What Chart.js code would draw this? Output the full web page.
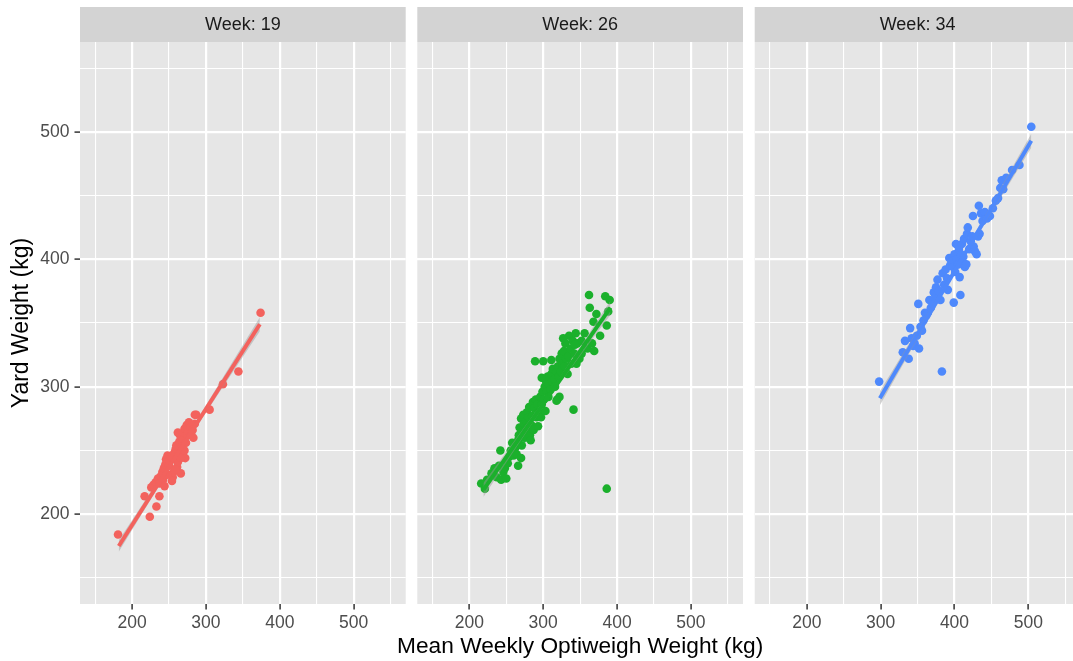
<!DOCTYPE html>
<html>
<head>
<meta charset="utf-8">
<title>Yard vs Optiweigh weight by week</title>
<script src="https://cdn.jsdelivr.net/npm/chart.js@4.4.1/dist/chart.umd.min.js"></script>
<style>
  html, body { margin: 0; padding: 0; background: #ffffff; overflow: hidden; }
  #wrap { position: relative; width: 1073px; height: 661px; overflow: hidden; }
  #wrap canvas { position: absolute; left: 0; top: 0; }
</style>
</head>
<body>
<div id="wrap">
  <canvas id="week19" width="1090" height="661"></canvas>
  <canvas id="week26" width="1090" height="661"></canvas>
  <canvas id="week34" width="1090" height="661"></canvas>
</div>
<script>
// Facet labels and colours
const weekLabels = ['Week: 19', 'Week: 26', 'Week: 34'];
const weekColors = ['#F3625D', '#1BB02C', '#4E89FC'];
const xTitle = 'Mean Weekly Optiweigh Weight (kg)';
const yTitle = 'Yard Weight (kg)';

// Major tick values shared by both axes (minor grid every 50 in between)
const tickValues = [200, 300, 400, 500];
const axisMin = 129.5;
const axisMax = 570.5;

// [mean weekly Optiweigh weight, yard weight] per animal, in kg
const week19 = [
  [181,184],[217,214],[224,198],[233,206],[237,214],[226,221],[229,223],[232,225],[235,228],[237,224],
  [239,230],[241,233],[243,236],[242,227],[245,239],[246,243],[248,246],[250,238],[251,242],[253,245],
  [255,229],[256,233],[257,248],[259,251],[260,254],[261,237],[262,241],[263,246],[264,257],[265,262],
  [266,232],[267,249],[268,253],[269,259],[270,264],[271,267],[272,244],[273,256],[274,270],[275,262],
  [276,265],[277,272],[279,268],[280,263],[282,266],[283,260],[285,271],[287,278],[271,250],[266,244],
  [259,235],[254,226],[248,231],[244,222],[285,278],[305,282],[323,302],[344,312],[374,358],[262,264]
];
const week26 = [
  [216,224],[221,220],[224,227],[230,232],[234,236],[237,229],[240,238],[242,250],[243,227],[246,233],
  [248,236],[250,228],[252,240],[254,245],[256,250],[258,256],[260,246],[262,252],[264,247],[266,258],
  [267,262],[268,268],[270,275],[271,254],[272,264],[273,278],[274,271],[275,260],[276,266],[277,273],
  [278,280],[279,268],[280,276],[281,284],[282,262],[284,270],[285,277],[286,288],[287,266],[288,283],
  [289,320],[290,290],[291,276],[292,286],[294,280],[296,292],[298,286],[299,296],[300,320],[301,290],
  [302,300],[304,304],[305,296],[306,308],[307,292],[308,302],[310,298],[311,310],[312,304],[313,314],
  [315,306],[316,300],[318,312],[319,290],[320,316],[321,308],[322,322],[324,312],[325,326],[326,318],
  [328,328],[329,316],[330,334],[331,322],[333,310],[334,324],[335,340],[337,330],[338,318],[340,336],
  [341,282],[342,326],[344,342],[346,334],[349,322],[352,336],[356,342],[360,330],[362,372],[363,362],
  [366,334],[368,351],[369,328],[372,357],[377,340],[384,371],[386,348],[386,220],[390,368],[388,359],
  [293,269],[283,258],[297,276],[303,281],[322,292],[318,289],[270,244],[345,318],[352,326],[311,321],
  [298,307],[327,338],[343,333],[266,238]
];
const week34 = [
  [298,304],[330,327],[333,336],[338,322],[340,346],[342,338],[344,332],[346,334],[349,340],[351,365],
  [352,330],[354,347],[356,344],[358,352],[360,358],[362,356],[364,358],[366,368],[368,362],[370,366],
  [372,374],[374,370],[375,378],[377,384],[379,375],[381,368],[383,312],[384,389],[386,380],[388,392],
  [390,385],[391,376],[393,401],[394,395],[396,398],[398,394],[399,366],[400,404],[401,390],[402,412],
  [403,400],[405,396],[406,408],[407,386],[408,372],[409,404],[410,412],[411,398],[412,402],[413,416],
  [414,394],[416,396],[417,420],[418,425],[420,408],[422,414],[424,418],[425,434],[426,410],[428,406],
  [430,404],[432,418],[433,442],[434,420],[436,436],[438,430],[441,437],[444,432],[448,434],[452,440],
  [456,446],[459,448],[462,456],[464,462],[466,455],[470,464],[478,470],[488,474],[504,504]
];

// Fitted linear trend (end points) and its confidence band, per week
const week19FitX = [182, 373];
const week19FitY = [175, 349];
const week19BandX = [182, 262, 373];
const week19BandLow = [170.5, 246.5, 343.5];
const week19BandHigh = [179.5, 249.5, 354.5];

const week26FitX = [219, 391];
const week26FitY = [219, 362];
const week26BandX = [219, 310, 391];
const week26BandLow = [213.5, 293, 356.5];
const week26BandHigh = [224.5, 296.5, 367.5];

const week34FitX = [299, 504];
const week34FitY = [291, 493];
const week34BandX = [299, 405, 504];
const week34BandLow = [285.5, 393.8, 487.5];
const week34BandHigh = [296.5, 397, 498.5];

const FONT = '"Liberation Sans", Arial, Helvetica, sans-serif';
const PANEL_TOP = 42;
const PANEL_BOTTOM = 604;
const PANEL_WIDTH = 325.7;
const CANVAS_W = 1090;

const isMajor = v => tickValues.includes(v);
const toPoints = (xs, ys) => xs.map((x, i) => ({ x: x, y: ys[i] }));

// Grey panel background plus the facet strip above it
const panelDecor = {
  id: 'panelDecor',
  beforeDraw(chart, args, opts) {
    const { ctx, chartArea: a } = chart;
    ctx.save();
    ctx.fillStyle = '#E6E6E6';
    ctx.fillRect(a.left, a.top, a.right - a.left, a.bottom - a.top);
    ctx.fillStyle = '#D3D3D3';
    ctx.fillRect(a.left, 7, a.right - a.left, a.top - 7);
    ctx.fillStyle = '#1A1A1A';
    ctx.font = '18px ' + FONT;
    ctx.textAlign = 'center';
    ctx.textBaseline = 'middle';
    ctx.fillText(opts.label, (a.left + a.right) / 2, 25.5);
    ctx.restore();
  }
};

// Shared x-axis title, centred under the middle panel (wider than one panel)
const sharedTitle = {
  id: 'sharedTitle',
  afterDraw(chart, args, opts) {
    if (!opts.text) return;
    const { ctx, chartArea: a } = chart;
    ctx.save();
    ctx.fillStyle = '#000000';
    ctx.font = '22.7px ' + FONT;
    ctx.textAlign = 'center';
    ctx.textBaseline = 'middle';
    ctx.fillText(opts.text, (a.left + a.right) / 2, 647);
    ctx.restore();
  }
};

function gridOptions(drawTicks) {
  return {
    color: '#FFFFFF',
    lineWidth: c => (isMajor(c.tick.value) ? 2.2 : 1.1),
    drawTicks: drawTicks,
    tickLength: 5.5,
    tickWidth: 1.5,
    tickColor: c => (isMajor(c.tick.value) ? '#333333' : 'rgba(0,0,0,0)')
  };
}

function makePanel(canvasId, index, data, fitX, fitY, bandX, bandLow, bandHigh, panelLeft) {
  const first = index === 0;
  const middle = index === 1;
  const color = weekColors[index];
  const yAxisWidth = first ? panelLeft : 0;

  return new Chart(document.getElementById(canvasId), {
    type: 'scatter',
    data: {
      datasets: [
        {
          // fitted line, drawn on top
          data: toPoints(fitX, fitY),
          showLine: true,
          borderColor: color,
          borderWidth: 4,
          pointRadius: 0,
          fill: false
        },
        {
          // upper edge of confidence band, filled down to the lower edge
          data: toPoints(bandX, bandHigh),
          showLine: true,
          borderWidth: 0,
          borderColor: 'rgba(0,0,0,0)',
          pointRadius: 0,
          backgroundColor: 'rgba(153,153,153,0.45)',
          fill: '+1'
        },
        {
          data: toPoints(bandX, bandLow),
          showLine: true,
          borderWidth: 0,
          borderColor: 'rgba(0,0,0,0)',
          pointRadius: 0,
          fill: false
        },
        {
          // individual animals
          data: data.map(p => ({ x: p[0], y: p[1] })),
          showLine: false,
          pointRadius: 4.3,
          pointBorderWidth: 0,
          pointBackgroundColor: color,
          pointBorderColor: color
        }
      ]
    },
    options: {
      responsive: false,
      animation: false,
      devicePixelRatio: 1,
      events: [],
      layout: {
        padding: {
          left: panelLeft - yAxisWidth,
          right: CANVAS_W - (panelLeft + PANEL_WIDTH),
          top: PANEL_TOP,
          bottom: 0
        }
      },
      plugins: {
        legend: { display: false },
        tooltip: { enabled: false },
        panelDecor: { label: weekLabels[index] },
        sharedTitle: { text: middle ? xTitle : '' }
      },
      scales: {
        x: {
          type: 'linear',
          position: 'bottom',
          min: axisMin,
          max: axisMax,
          afterFit: s => { s.height = 661 - PANEL_BOTTOM; },
          border: { display: false },
          grid: gridOptions(true),
          ticks: {
            stepSize: 50,
            includeBounds: false,
            autoSkip: false,
            maxRotation: 0,
            minRotation: 0,
            padding: 3,
            color: '#4D4D4D',
            font: { family: FONT, size: 17.5 },
            callback: v => (isMajor(v) ? String(v) : '')
          }
        },
        y: {
          type: 'linear',
          position: 'left',
          min: axisMin,
          max: axisMax,
          afterFit: s => { s.width = yAxisWidth; },
          border: { display: false },
          grid: gridOptions(first),
          ticks: {
            display: first,
            stepSize: 50,
            includeBounds: false,
            autoSkip: false,
            padding: 5,
            color: '#4D4D4D',
            font: { family: FONT, size: 17.5 },
            callback: v => (isMajor(v) ? String(v) : '')
          },
          title: {
            display: first,
            text: yTitle,
            color: '#000000',
            font: { family: FONT, size: 23, lineHeight: 1.2 },
            padding: { top: 8, bottom: 0 }
          }
        }
      }
    },
    plugins: [panelDecor, sharedTitle]
  });
}

makePanel('week19', 0, week19, week19FitX, week19FitY, week19BandX, week19BandLow, week19BandHigh, 80);
makePanel('week26', 1, week26, week26FitX, week26FitY, week26BandX, week26BandLow, week26BandHigh, 417.3);
makePanel('week34', 2, week34, week34FitX, week34FitY, week34BandX, week34BandLow, week34BandHigh, 754.7);
</script>
</body>
</html>
